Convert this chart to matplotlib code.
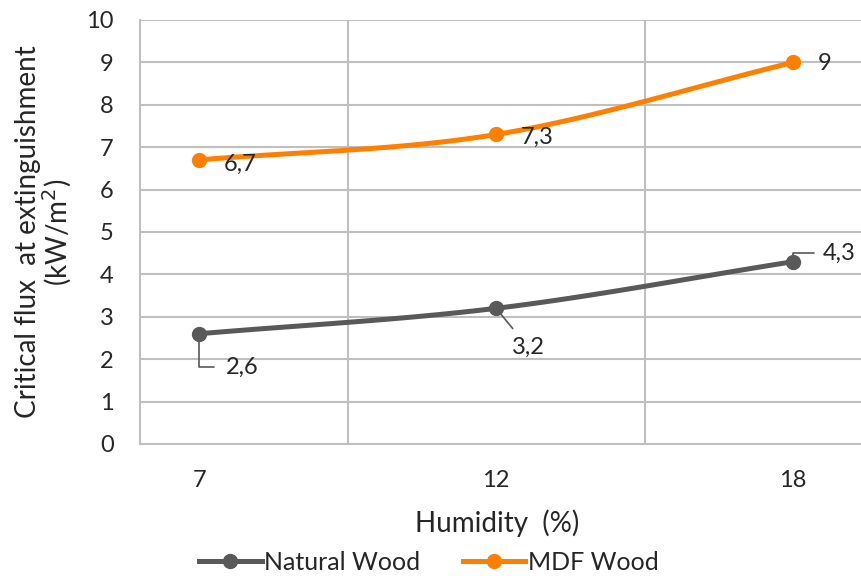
import numpy as np
import matplotlib.pyplot as plt
from matplotlib.lines import Line2D

plt.rcParams['font.family'] = ['Lato', 'DejaVu Sans']

humidity = ["7", "12", "18"]
natural_wood = [2.6, 3.2, 4.3]
mdf_wood = [6.7, 7.3, 9.0]
value_labels_nat = ["2,6", "3,2", "4,3"]
value_labels_mdf = ["6,7", "7,3", "9"]

GRAY = "#595959"
ORANGE = "#FF8000"
GRID = "#BFBFBF"
TXT = "#262626"


def smooth(xs, ys, n=40):
    # Catmull-Rom style smoothing, like a spreadsheet "smoothed line";
    # phantom end points are extrapolated so the ends stay straight-ish
    xs = np.asarray(xs, float); ys = np.asarray(ys, float)
    px = np.concatenate([[2*xs[0] - xs[1]], xs, [2*xs[-1] - xs[-2]]])
    py = np.concatenate([[2*ys[0] - ys[1]], ys, [2*ys[-1] - ys[-2]]])
    outx, outy = [], []
    for i in range(1, len(px) - 2):
        t = np.linspace(0, 1, n)
        for p, out in ((px, outx), (py, outy)):
            p0, p1, p2, p3 = p[i-1], p[i], p[i+1], p[i+2]
            out.extend(0.5 * (2*p1 + (-p0 + p2)*t + (2*p0 - 5*p1 + 4*p2 - p3)*t**2
                              + (-p0 + 3*p1 - 3*p2 + p3)*t**3))
    return np.array(outx), np.array(outy)


fig = plt.figure(figsize=(8.62, 5.76), dpi=100)
ax = fig.add_axes([140/862, 1 - 444/576, 1 - 140/862, 424/576])

x = np.arange(len(humidity))
for ys, col in ((natural_wood, GRAY), (mdf_wood, ORANGE)):
    sx, sy = smooth(x, ys)
    ax.plot(sx, sy, color=col, lw=3.6, solid_capstyle='round', zorder=3)
    ax.plot(x, ys, 'o', color=col, ms=10, zorder=4)

ax.set_xlim(-0.199, 2.232)
ax.set_ylim(0, 10)
ax.set_yticks(range(0, 11))
ax.set_xticks(x)
ax.set_xticklabels(humidity)
ax.set_xticks([0.5, 1.5], minor=True)
ax.tick_params(axis='both', which='both', length=0, labelsize=17, colors=TXT)
ax.tick_params(axis='y', pad=19)
ax.tick_params(axis='x', pad=19)
ax.grid(axis='y', color=GRID, lw=1.5)
ax.grid(axis='x', which='minor', color=GRID, lw=1.5)
for s in ('top', 'right'):
    ax.spines[s].set_visible(False)
for s in ('left', 'bottom'):
    ax.spines[s].set_color(GRID)
    ax.spines[s].set_linewidth(1.5)
ax.set_axisbelow(True)

ax.set_ylabel("Critical flux  at extinguishment\n(kW/m$^2$)", fontsize=20,
              color=TXT, linespacing=1.0)
ax.yaxis.set_label_coords(-(140-74)/722, 0.5)
ax.set_xlabel("Humidity  (%)", fontsize=20, color=TXT)
ax.xaxis.set_label_coords((497-140)/722, -(509-444)/424)

# data labels (offsets in points)
lab = dict(textcoords='offset points', ha='left', va='center', fontsize=17, color=TXT)
lead = dict(arrowstyle='-', color=GRAY, lw=1.2)
ax.annotate(value_labels_mdf[0], (0, mdf_wood[0]), xytext=(18, -3), **lab)
ax.annotate(value_labels_mdf[1], (1, mdf_wood[1]), xytext=(18, -2), **lab)
ax.annotate(value_labels_mdf[2], (2, mdf_wood[2]), xytext=(18, -1), **lab)
ax.annotate(value_labels_nat[0], (0, natural_wood[0]), xytext=(19, -24), **lab,
            arrowprops=dict(lead, connectionstyle='angle,angleA=0,angleB=90,rad=0',
                            shrinkA=6, shrinkB=4))
ax.annotate(value_labels_nat[1], (1, natural_wood[1]), xytext=(23, -28),
            **dict(lab, ha='center'), arrowprops=dict(lead, shrinkA=5, shrinkB=2))
ax.annotate(value_labels_nat[2], (2, natural_wood[2]), xytext=(21, 6), **lab,
            arrowprops=dict(lead, connectionstyle='angle,angleA=0,angleB=90,rad=0',
                            shrinkA=4, shrinkB=4))

handles = [Line2D([], [], color=GRAY, lw=3.6, marker='o', ms=10),
           Line2D([], [], color=ORANGE, lw=3.6, marker='o', ms=10)]
fig.legend(handles, ["Natural Wood", "MDF Wood"], loc='center left',
           bbox_to_anchor=(199/862, 1 - 562/576), ncol=2, frameon=False,
           labelcolor=TXT, fontsize=18, handlelength=2.5, handletextpad=0.1,
           columnspacing=1.7, borderpad=0, borderaxespad=0)

fig.savefig("out.png", dpi=100)
